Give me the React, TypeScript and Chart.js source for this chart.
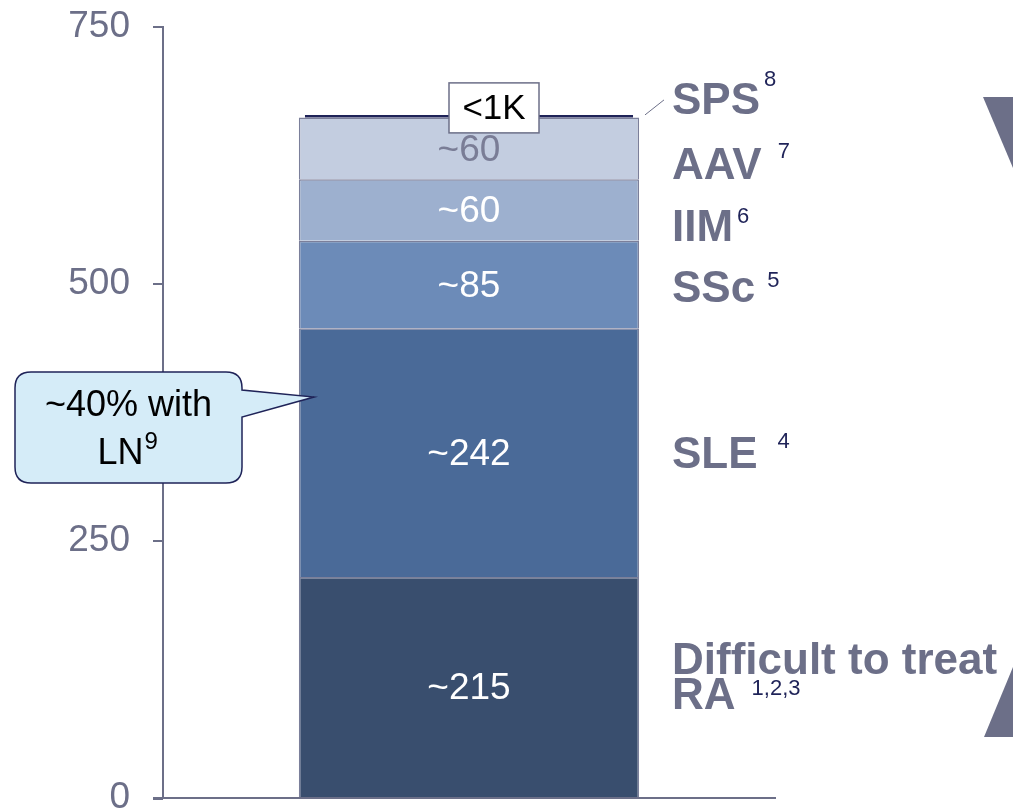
import React, { useEffect, useRef } from 'react';
import { Chart, registerables } from 'chart.js';

Chart.register(...registerables);

// ---- data ----
const categories = [''];
const seriesNames = ['Difficult to treat RA', 'SLE', 'SSc', 'IIM', 'AAV', 'SPS'];
const seriesValues = [215, 242, 85, 60, 60, 2.5];
const valueLabels = ['~215', '~242', '~85', '~60', '~60', '<1K'];
const rightLabels = [['Difficult to treat', 'RA'], ['SLE'], ['SSc'], ['IIM'], ['AAV'], ['SPS']];
const superscripts = ['1,2,3', '4', '5', '6', '7', '8'];
const yTicks = [0, 250, 500, 750];
const calloutLines = ['~40% with', 'LN'];
const calloutSup = '9';

// ---- styles ----
const fillColors = ['#394E6E', '#4A6A98', '#6C8BB8', '#9DB0CF', '#C3CDE0', '#1F2358'];
const valueTextColors = ['#FFFFFF', '#FFFFFF', '#FFFFFF', '#FFFFFF', '#7A7D96', '#000000'];
const GREY = '#6C6F88';
const NAVY = '#1F2358';
const FONT = "'Liberation Sans', Arial, sans-serif";

const annotationPlugin = {
  id: 'annotations',
  afterDatasetsDraw(chart: any) {
    const ctx = chart.ctx as CanvasRenderingContext2D;
    const metas = seriesValues.map((_, i) => chart.getDatasetMeta(i).data[0]);
    ctx.save();

    // value labels inside segments
    ctx.textAlign = 'center';
    ctx.textBaseline = 'middle';
    ctx.font = `37px ${FONT}`;
    for (let i = 0; i < 5; i++) {
      const el = metas[i];
      const cy = (el.y + el.base) / 2;
      ctx.fillStyle = valueTextColors[i];
      ctx.fillText(valueLabels[i], el.x, cy + 2);
    }

    // <1K box
    const sps = metas[5];
    const bx = sps.x + 25;
    const by = sps.y - 1;
    const bw = 90, bh = 50;
    ctx.fillStyle = '#FFFFFF';
    ctx.fillRect(bx - bw / 2, by - bh / 2 - 6, bw, bh);
    ctx.strokeStyle = GREY;
    ctx.lineWidth = 1.5;
    ctx.strokeRect(bx - bw / 2, by - bh / 2 - 6, bw, bh);
    ctx.fillStyle = '#000000';
    ctx.font = `35px ${FONT}`;
    ctx.fillText(valueLabels[5], bx, by - 5);

    // right labels
    const lx = 672;
    const offsets = [-25, 3, 5, 19, 19, -13];
    const lineGap = 35;
    const supDy = [-8, -14, -9, -12, -15, -22];
    const supGap = [16, 20, 12, 4, 16, 4];
    ctx.textAlign = 'left';
    for (let i = 0; i < 6; i++) {
      const el = metas[i];
      const cy = i === 5 ? el.y : (el.y + el.base) / 2;
      const y0 = cy + offsets[i];
      const lines = rightLabels[i];
      ctx.font = `bold 44px ${FONT}`;
      ctx.fillStyle = GREY;
      let lastW = 0;
      let lastY = y0;
      lines.forEach((t, k) => {
        const yy = y0 + k * lineGap;
        ctx.fillText(t, lx, yy);
        lastW = ctx.measureText(t).width;
        lastY = yy;
      });
      ctx.font = `22px ${FONT}`;
      ctx.fillStyle = NAVY;
      ctx.fillText(superscripts[i], lx + lastW + supGap[i], lastY + supDy[i]);
    }

    // connector line for SPS
    ctx.strokeStyle = GREY;
    ctx.lineWidth = 1;
    ctx.beginPath();
    ctx.moveTo(sps.x + sps.width / 2 + 12, sps.y);
    ctx.lineTo(lx - 8, sps.y - 15);
    ctx.stroke();

    // callout
    const sle = metas[1];
    const tipX = sle.x - 155;
    const tipY = 397;
    const rx = 15, ry = 372, rw = 227, rh = 111, r = 16;
    ctx.beginPath();
    ctx.moveTo(rx + r, ry);
    ctx.lineTo(rx + rw - r, ry);
    ctx.quadraticCurveTo(rx + rw, ry, rx + rw, ry + r);
    ctx.lineTo(rx + rw, ry + 18);
    ctx.lineTo(tipX, tipY);
    ctx.lineTo(rx + rw, ry + 45);
    ctx.lineTo(rx + rw, ry + rh - r);
    ctx.quadraticCurveTo(rx + rw, ry + rh, rx + rw - r, ry + rh);
    ctx.lineTo(rx + r, ry + rh);
    ctx.quadraticCurveTo(rx, ry + rh, rx, ry + rh - r);
    ctx.lineTo(rx, ry + r);
    ctx.quadraticCurveTo(rx, ry, rx + r, ry);
    ctx.closePath();
    ctx.fillStyle = '#D5ECF8';
    ctx.fill();
    ctx.strokeStyle = NAVY;
    ctx.lineWidth = 1.5;
    ctx.stroke();

    ctx.fillStyle = '#000000';
    ctx.textAlign = 'center';
    ctx.font = `36px ${FONT}`;
    ctx.fillText(calloutLines[0], rx + rw / 2, ry + 34);
    const lnW = ctx.measureText(calloutLines[1]).width;
    ctx.textAlign = 'left';
    const lnX = rx + rw / 2 - 8 - lnW / 2;
    ctx.fillText(calloutLines[1], lnX, ry + 82);
    ctx.font = `24px ${FONT}`;
    ctx.fillText(calloutSup, lnX + lnW + 1, ry + 70);

    // x axis stub left of the y axis
    const area = chart.chartArea;
    ctx.strokeStyle = GREY;
    ctx.lineWidth = 2;
    ctx.beginPath();
    ctx.moveTo(area.left - 10, area.bottom + 1);
    ctx.lineTo(area.left, area.bottom + 1);
    ctx.stroke();

    // chevrons at right edge
    const W = chart.width;
    ctx.fillStyle = GREY;
    ctx.beginPath();
    ctx.moveTo(W - 30, 97);
    ctx.lineTo(W, 97);
    ctx.lineTo(W, 168);
    ctx.closePath();
    ctx.fill();
    ctx.beginPath();
    ctx.moveTo(W - 29, 737);
    ctx.lineTo(W, 737);
    ctx.lineTo(W, 667);
    ctx.closePath();
    ctx.fill();

    ctx.restore();
  },
};

export default function App() {
  const canvasRef = useRef<HTMLCanvasElement | null>(null);

  useEffect(() => {
    if (!canvasRef.current) return;
    const datasets = seriesValues.map((v, i) => ({
      label: seriesNames[i],
      data: [v],
      backgroundColor: fillColors[i],
      borderColor: i === 5 ? fillColors[i] : '#7B7F9A',
      borderWidth: i === 5 ? 0 : 1.5,
      barPercentage: i === 5 ? 0.536 : 0.556,
      categoryPercentage: 1,
    }));
    const chart = new Chart(canvasRef.current, {
      type: 'bar',
      data: { labels: categories, datasets },
      options: {
        animation: false,
        responsive: false,
        maintainAspectRatio: false,
        layout: { padding: { top: 27, right: 238, bottom: 0, left: 0 } },
        plugins: {
          legend: { display: false },
          tooltip: { enabled: false },
        },
        scales: {
          x: {
            stacked: true,
            grid: { display: false, drawTicks: false },
            border: { display: true, color: GREY, width: 2 },
            ticks: { display: false },
            afterFit: (s: any) => { s.height = 14; },
          },
          y: {
            stacked: true,
            min: 0,
            max: 750,
            afterBuildTicks: (s: any) => { s.ticks = yTicks.map((v) => ({ value: v })); },
            grid: {
              drawOnChartArea: false,
              drawTicks: true,
              tickLength: 33,
              tickBorderDash: [10, 200],
              tickBorderDashOffset: 187,
              color: GREY,
              lineWidth: 2,
            },
            border: { display: true, color: GREY, width: 2 },
            ticks: {
              color: GREY,
              padding: 0,
              font: { size: 37, family: FONT, lineHeight: 0.7 },
            },
            afterFit: (s: any) => { s.width = 163; },
          },
        },
      },
      plugins: [annotationPlugin],
    });
    return () => chart.destroy();
  }, []);

  return (
    <div style={{ position: 'fixed', left: 0, top: 0, width: 1013, height: 812, background: '#FFFFFF' }}>
      <canvas ref={canvasRef} width={1013} height={812} style={{ width: 1013, height: 812 }} />
    </div>
  );
}
